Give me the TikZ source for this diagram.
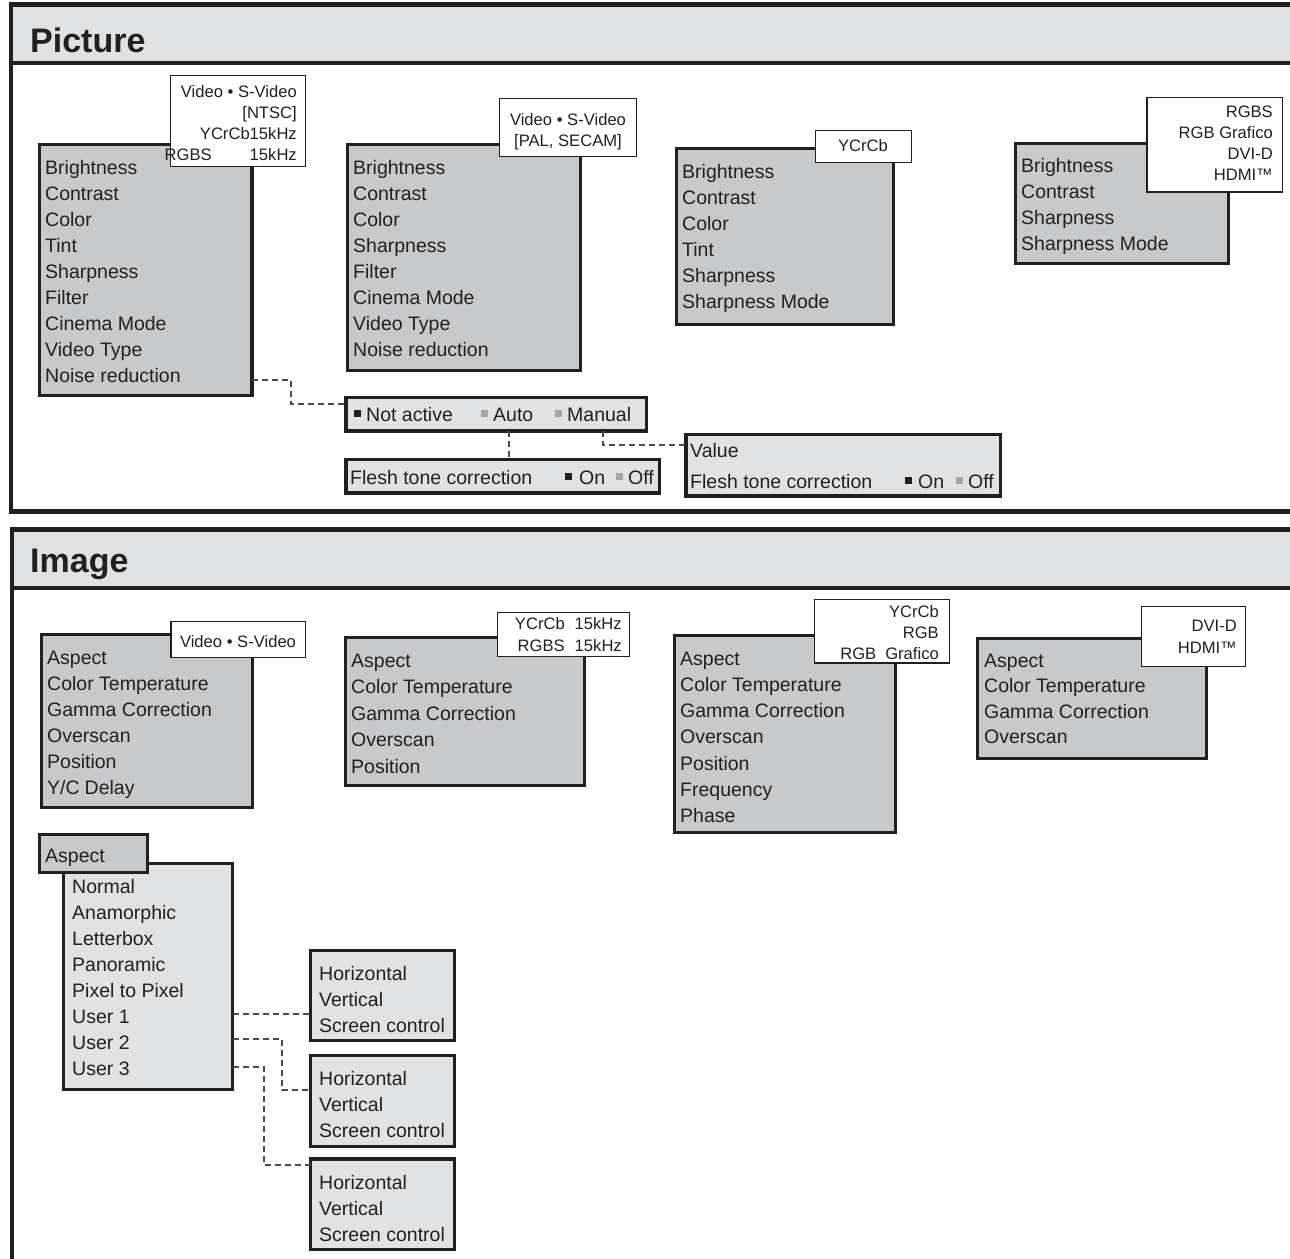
\documentclass[tikz,border=0pt]{standalone}
\usepackage{fontspec}
\setmainfont{Liberation Sans}
\usetikzlibrary{calc}
\definecolor{ink}{HTML}{231F20}
\definecolor{menufill}{HTML}{C8C9CB}
\definecolor{subfill}{HTML}{E1E2E3}
\definecolor{headfill}{HTML}{E0E1E2}
\definecolor{dashc}{HTML}{4A4A4A}
\definecolor{optgray}{HTML}{A5A5A5}
\newcommand{\bsq}{\textcolor{ink}{\rule[4pt]{7pt}{7pt}}}
\newcommand{\gsq}{\textcolor{optgray}{\rule[4pt]{7pt}{7pt}}}
\newcommand{\drawbox}[6]{\node[#2, minimum width={#5pt-#3pt}, minimum height={#6pt-#4pt}] (#1) at (#3,#4) {};}
\tikzset{
  boxbase/.style={rectangle, inner sep=0pt, outer sep=0pt, anchor=north west},
  menu/.style={boxbase, draw=ink, line width=3.2pt, fill=menufill},
  sub/.style={boxbase, draw=ink, line width=3.2pt, fill=subfill},
  tag/.style={boxbase, draw=ink, line width=1.5pt, fill=white},
  txt/.style={inner sep=0pt, anchor=base west, align=left, text=ink, font=\fontsize{19.5}{26}\selectfont},
  tagtxt/.style={inner sep=0pt, text=ink, font=\fontsize{16.6}{21.3}\selectfont},
  title/.style={inner sep=0pt, anchor=base west, text=ink, font=\fontsize{34}{40}\selectfont\bfseries},
  conn/.style={draw=dashc, line width=1.1pt, dash pattern=on 6pt off 4pt},
  frame/.style={draw=ink, line width=4.5pt},
}
\begin{document}
% note: for multi-line nodes the base anchor is the baseline of the LAST line
\begin{tikzpicture}[x=1pt,y=-1pt]
\useasboundingbox (0,0) rectangle (1290,1258);
\begin{scope}
\clip (0,0) rectangle (1290,1258);
% Picture frame
\fill[headfill] (11,4.5) rectangle (1300,63);
\draw[frame] (1300,4.5) -- (11,4.5) -- (11,511.5) -- (1300,511.5);
\draw[frame] (11,63) -- (1300,63);
% Image frame
\fill[headfill] (12,529.5) rectangle (1300,588);
\draw[frame] (1300,529.5) -- (12,529.5) -- (12,1270);
\draw[frame] (12,588) -- (1300,588);
\end{scope}
\node[title] (tpic) at (30,52) {Picture};
\node[title] (timg) at (30,572) {Image};

% ---------- Picture section ----------
\drawbox{p1}{menu}{39.5}{144.5}{252}{395.5}
\node[txt] (p1t) at (45,382) {Brightness\\Contrast\\Color\\Tint\\Sharpness\\Filter\\Cinema Mode\\Video Type\\Noise reduction};
\drawbox{l1}{tag}{170.5}{75.5}{305.5}{166.5}
\node[tagtxt, anchor=base east, align=right] (l1t) at (297,160.9) {Video • S-Video\\{[NTSC]}\\YCrCb15kHz\\RGBS\hspace{38pt}15kHz};

\drawbox{p2}{menu}{347.5}{144.5}{580.5}{370.5}
\node[txt] (p2t) at (353,356) {Brightness\\Contrast\\Color\\Sharpness\\Filter\\Cinema Mode\\Video Type\\Noise reduction};
\drawbox{l2}{tag}{499.5}{98.5}{636.5}{156.5}
\node[tagtxt, anchor=base, align=center] (l2t) at (568,146.3) {Video • S-Video\\{[PAL, SECAM]}};

\drawbox{p3}{menu}{676.5}{148.5}{893.5}{324.5}
\node[txt] (p3t) at (682,308) {Brightness\\Contrast\\Color\\Tint\\Sharpness\\Sharpness Mode};
\drawbox{l3}{tag}{815.5}{130.5}{911.5}{162.5}
\node[tagtxt, anchor=base] (l3t) at (863,151) {YCrCb};

\drawbox{p4}{menu}{1015.5}{143.5}{1228.5}{263.5}
\node[txt] (p4t) at (1021,250) {Brightness\\Contrast\\Sharpness\\Sharpness Mode};
\drawbox{l4}{tag}{1147}{97.5}{1282.5}{192}
\node[tagtxt, anchor=base east, align=right] (l4t) at (1273,180.9) {RGBS\\RGB Grafico\\DVI-D\\HDMI™};

% option boxes
\drawbox{na}{sub}{346}{397.5}{646.5}{431}
\node[txt] (na1) at (354,421) {\bsq\hspace{5pt}Not active};
\node[txt] (na2) at (481,421) {\gsq\hspace{5pt}Auto};
\node[txt] (na3) at (555,421) {\gsq\hspace{5pt}Manual};

\drawbox{ft}{sub}{346}{459.5}{659.5}{493}
\node[txt] (ft1) at (350,484) {Flesh tone correction};
\node[txt] (ft2) at (565,484) {\bsq\hspace{7pt}On};
\node[txt] (ft3) at (616,484) {\gsq\hspace{5pt}Off};

\drawbox{val}{sub}{686}{434.5}{1000.5}{496}
\node[txt] (v1) at (690,457) {Value};
\node[txt] (v2) at (690,488) {Flesh tone correction};
\node[txt] (v3) at (905,488) {\bsq\hspace{6pt}On};
\node[txt] (v4) at (956,488) {\gsq\hspace{5pt}Off};

% connectors (picture)
\draw[conn] ($(p1.south east)+(0,-15.5)$) -- ++(39,0) |- ($(na.north west)+(0,6.5)$);
\draw[conn] ($(na.south west)+(163,0)$) -- ($(ft.north west)+(163,0)$);
\draw[conn] ($(na.south west)+(257,0)$) |- ($(val.north west)+(0,10.5)$);

% ---------- Image section ----------
\drawbox{i1}{menu}{41.5}{634.5}{252.5}{807.5}
\node[txt] (i1t) at (47,794) {Aspect\\Color Temperature\\Gamma Correction\\Overscan\\Position\\Y/C\hspace{5pt}Delay};
\drawbox{il1}{tag}{171}{621.5}{305.5}{657.5}
\node[tagtxt, anchor=base] (il1t) at (238,647) {Video • S-Video};

\drawbox{i2}{menu}{345.5}{637.5}{584.5}{785.5}
\node[txt, font=\fontsize{19.5}{26.5}\selectfont] (i2t) at (351,773) {Aspect\\Color Temperature\\Gamma Correction\\Overscan\\Position};
\drawbox{il2}{tag}{497.5}{612.5}{629.5}{656.5}
\node[tagtxt, anchor=base east, align=right, font=\fontsize{16.6}{22}\selectfont] (il2t) at (622,651) {YCrCb\hspace{10pt}15kHz\\RGBS\hspace{10pt}15kHz};

\drawbox{i3}{menu}{674.5}{635.5}{895.5}{832.5}
\node[txt, font=\fontsize{19.5}{26.3}\selectfont] (i3t) at (680,822.8) {Aspect\\Color Temperature\\Gamma Correction\\Overscan\\Position\\Frequency\\Phase};
\drawbox{il3}{tag}{814.5}{599.5}{949.5}{663}
\node[tagtxt, anchor=base east, align=right, font=\fontsize{16.6}{21}\selectfont] (il3t) at (939,659) {YCrCb\\RGB\\RGB\hspace{9pt}Grafico};

\drawbox{i4}{menu}{977.5}{638.5}{1206.5}{758.5}
\node[txt, font=\fontsize{19.5}{25.5}\selectfont] (i4t) at (984,743.5) {Aspect\\Color Temperature\\Gamma Correction\\Overscan};
\drawbox{il4}{tag}{1141.5}{606.5}{1245.5}{666.5}
\node[tagtxt, anchor=base east, align=right, font=\fontsize{16.6}{22}\selectfont] (il4t) at (1237,653) {DVI-D\\HDMI™};

% Aspect submenu
\drawbox{asub}{sub}{63.5}{863.5}{232.5}{1089.5}
\drawbox{atab}{menu}{39.5}{834.5}{147.5}{872.5}
\node[txt] (atabt) at (45,862) {Aspect};
\node[txt, font=\fontsize{19.5}{26.1}\selectfont] (asubt) at (72,1075.7) {Normal\\Anamorphic\\Letterbox\\Panoramic\\Pixel to Pixel\\User 1\\User 2\\User 3};

\drawbox{h1}{sub}{310.5}{950.5}{454.5}{1040.5}
\node[txt] (h1t) at (319,1032) {Horizontal\\Vertical\\Screen control};
\drawbox{h2}{sub}{310.5}{1055.5}{454.5}{1146.5}
\node[txt] (h2t) at (319,1137) {Horizontal\\Vertical\\Screen control};
\drawbox{h3}{sub}{310.5}{1159}{454.5}{1249.5}
\node[txt] (h3t) at (319,1241) {Horizontal\\Vertical\\Screen control};

\draw[conn] ($(asub.south east)+(0,-75.5)$) -- ($(h1.north west)+(0,63.5)$);
\draw[conn] ($(asub.south east)+(0,-50.5)$) -- ++(49.5,0) |- ($(h2.north west)+(0,34.5)$);
\draw[conn] ($(asub.south east)+(0,-22.5)$) -- ++(31.5,0) |- ($(h3.north west)+(0,6)$);
\end{tikzpicture}
\end{document}
